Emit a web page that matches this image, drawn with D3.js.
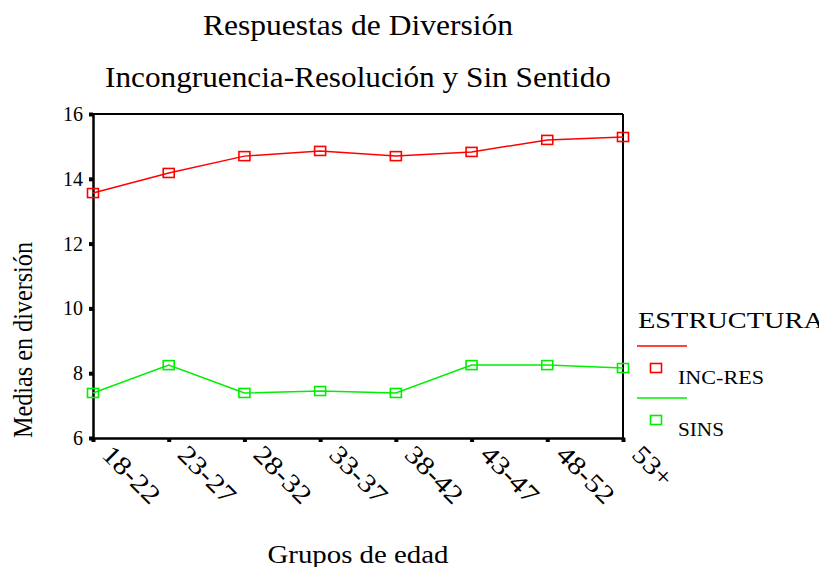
<!DOCTYPE html>
<html lang='es'>
<head>
   <meta charset='UTF-8'>
   <title>Respuestas de Diversión</title>
   <script src='https://d3js.org/d3.v7.min.js'></script>
   <style>
      body { margin: 0; background: #fff; }
      svg { display: block; font-family: 'Liberation Serif', 'Times New Roman', serif; }
   </style>
</head>
<body>
   <div id='chart'></div>
   <script>
      const groups = ['18-22', '23-27', '28-32', '33-37', '38-42', '43-47', '48-52', '53+'];
      const incRes = [13.56, 14.18, 14.70, 14.86, 14.70, 14.83, 15.20, 15.29];
      const sins = [7.39, 8.25, 7.39, 7.45, 7.39, 8.25, 8.25, 8.16];
      const yTicks = [6, 8, 10, 12, 14, 16];

      const series = [
         { name: 'INC-RES', values: incRes, colour: '#ff0000', len: 86 },
         { name: 'SINS', values: sins, colour: '#00ee00', len: 46 }
      ];

      const W = 819, H = 567;
      const margins = { top: 114, right: 196, bottom: 129, left: 93 };
      const width = W - margins.left - margins.right;
      const height = H - margins.top - margins.bottom;

      const svg = d3.select('#chart').append('svg').attr('width', W).attr('height', H);
      const g = svg.append('g').attr('transform', `translate(${margins.left}, ${margins.top})`);

      const x = d3.scalePoint().domain(groups).range([0, width]).padding(0);
      const y = d3.scaleLinear().domain([6, 16]).range([height, 0]);

      // titles
      svg.append('text').attr('x', 358).attr('y', 35).attr('text-anchor', 'middle')
         .attr('font-size', '29px').attr('textLength', 310).attr('lengthAdjust', 'spacingAndGlyphs')
         .text('Respuestas de Diversión');
      svg.append('text').attr('x', 358).attr('y', 87).attr('text-anchor', 'middle')
         .attr('font-size', '29px').attr('textLength', 506).attr('lengthAdjust', 'spacingAndGlyphs')
         .text('Incongruencia-Resolución y Sin Sentido');

      // frame top/right
      g.append('line').attr('x1', 0).attr('x2', width).attr('y1', 0).attr('y2', 0)
         .attr('stroke', '#000').attr('stroke-width', 2);
      g.append('line').attr('x1', width).attr('x2', width).attr('y1', 0).attr('y2', height)
         .attr('stroke', '#000').attr('stroke-width', 2);

      // axes
      const yAxis = g.append('g').call(d3.axisLeft(y).tickValues(yTicks).tickSize(4).tickPadding(6));
      yAxis.select('.domain').attr('stroke-width', 2.5);
      yAxis.selectAll('.tick line').attr('stroke-width', 4);
      yAxis.selectAll('.tick text').attr('font-size', '20px').attr('font-family', "'Liberation Serif', serif");

      const xAxis = g.append('g').attr('transform', `translate(0, ${height})`)
         .call(d3.axisBottom(x).tickSize(4).tickPadding(0));
      xAxis.select('.domain').attr('stroke-width', 2.5);
      xAxis.selectAll('.tick line').attr('stroke-width', 4);
      xAxis.selectAll('.tick text')
         .attr('font-size', '26px').attr('font-family', "'Liberation Serif', serif")
         .attr('text-anchor', 'start').attr('dy', 0).attr('y', 0)
         .attr('textLength', d => d === '53+' ? 46 : 70).attr('lengthAdjust', 'spacingAndGlyphs')
         .attr('transform', 'translate(7, 18) rotate(45)');

      // lines
      const line = d3.line().x((d, i) => x(groups[i])).y(d => y(d));
      series.forEach(s => {
         g.append('path').attr('d', line(s.values)).attr('fill', 'none')
            .attr('stroke', s.colour).attr('stroke-width', 1.5);
         g.selectAll(null).data(s.values).enter().append('rect')
            .attr('x', (d, i) => x(groups[i]) - 5.5).attr('y', d => y(d) - 4.5)
            .attr('width', 11).attr('height', 9)
            .attr('fill', 'none').attr('stroke', s.colour).attr('stroke-width', 1.6);
      });

      // axis labels
      svg.append('text').attr('x', 358).attr('y', 563).attr('text-anchor', 'middle')
         .attr('font-size', '25px').attr('textLength', 181).attr('lengthAdjust', 'spacingAndGlyphs')
         .text('Grupos de edad');
      svg.append('text').attr('transform', 'translate(32, 340) rotate(-90)')
         .attr('text-anchor', 'middle').attr('font-size', '28px')
         .attr('textLength', 196).attr('lengthAdjust', 'spacingAndGlyphs')
         .text('Medias en diversión');

      // legend
      const lg = svg.append('g').attr('transform', 'translate(637, 0)');
      lg.append('text').attr('x', 1).attr('y', 328).attr('font-size', '24px')
         .attr('textLength', 186).attr('lengthAdjust', 'spacingAndGlyphs').text('ESTRUCTURA');
      series.forEach((s, i) => {
         const y0 = 346 + i * 52;
         lg.append('line').attr('x1', 0).attr('x2', 50).attr('y1', y0).attr('y2', y0)
            .attr('stroke', s.colour).attr('stroke-width', 1.5);
         lg.append('rect').attr('x', 13.5).attr('y', y0 + 17.5).attr('width', 11).attr('height', 9)
            .attr('fill', 'none').attr('stroke', s.colour).attr('stroke-width', 1.6);
         lg.append('text').attr('x', 41).attr('y', y0 + 38).attr('font-size', '19px')
            .attr('textLength', s.len).attr('lengthAdjust', 'spacingAndGlyphs').text(s.name);
      });
   </script>
</body>
</html>
